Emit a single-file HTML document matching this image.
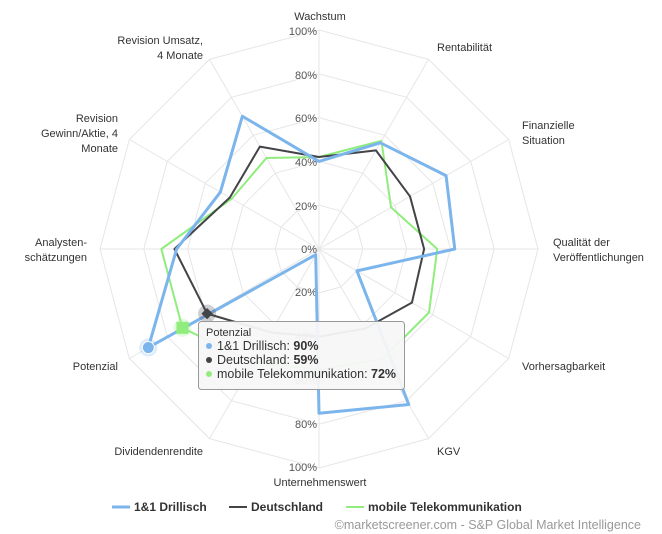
<!DOCTYPE html>
<html><head><meta charset="utf-8"><style>
body{margin:0;background:#fff;}
svg{display:block;font-family:"Liberation Sans",sans-serif;}
</style></head><body>
<svg id="s" width="662" height="534" xmlns="http://www.w3.org/2000/svg">
<g id="grid"></g>
<g font-size="11" fill="#555" text-anchor="end">
<text x="317" y="35">100%</text><text x="317" y="79">80%</text><text x="317" y="122">60%</text><text x="317" y="166">40%</text><text x="317" y="210">20%</text><text x="317" y="253">0%</text>
<text x="317" y="296">20%</text><text x="317" y="340">40%</text><text x="317" y="384">60%</text><text x="317" y="428">80%</text><text x="317" y="471">100%</text>
</g>
<g font-size="11" fill="#333">
<text x="320" y="20" text-anchor="middle">Wachstum</text>
<text x="437" y="51">Rentabilität</text>
<text x="522" y="129">Finanzielle</text><text x="522" y="144">Situation</text>
<text x="553" y="246">Qualität der</text><text x="553" y="261">Veröffentlichungen</text>
<text x="522" y="370">Vorhersagbarkeit</text>
<text x="437" y="455">KGV</text>
<text x="320" y="486" text-anchor="middle">Unternehmenswert</text>
<text x="203" y="455" text-anchor="end">Dividendenrendite</text>
<text x="118" y="370" text-anchor="end">Potenzial</text>
<text x="87" y="246" text-anchor="end">Analysten-</text><text x="87" y="261" text-anchor="end">schätzungen</text>
<text x="118" y="122" text-anchor="end">Revision</text><text x="118" y="137" text-anchor="end">Gewinn/Aktie, 4</text><text x="118" y="152" text-anchor="end">Monate</text>
<text x="203" y="44" text-anchor="end">Revision Umsatz,</text><text x="203" y="59" text-anchor="end">4 Monate</text>
</g>
<g id="series"></g>
<g>
<rect x="198.5" y="321.5" width="206" height="68" rx="3" fill="#f7f7f7" fill-opacity="0.95" stroke="#999" />
<text x="206" y="336" font-size="11" fill="#333">Potenzial</text>
<circle cx="209" cy="346" r="3" fill="#7cb5ec"/><text x="217" y="350" font-size="12.5" fill="#333">1&amp;1 Drillisch: <tspan font-weight="bold">90%</tspan></text>
<circle cx="209" cy="360" r="3" fill="#434348"/><text x="217" y="364" font-size="12.5" fill="#333">Deutschland: <tspan font-weight="bold">59%</tspan></text>
<circle cx="209" cy="374" r="3" fill="#90ed7d"/><text x="217" y="378" font-size="12.5" fill="#333">mobile Telekommunikation: <tspan font-weight="bold">72%</tspan></text>
</g>
<g font-size="12" font-weight="bold" fill="#333">
<line x1="112" y1="507" x2="130" y2="507" stroke="#7cb5ec" stroke-width="3"/><text x="134" y="511">1&amp;1 Drillisch</text>
<line x1="229" y1="507" x2="247" y2="507" stroke="#434348" stroke-width="2"/><text x="251" y="511">Deutschland</text>
<line x1="346" y1="507" x2="364" y2="507" stroke="#90ed7d" stroke-width="2"/><text x="368" y="511">mobile Telekommunikation</text>
</g>
<text x="641" y="529" font-size="12.5" fill="#999" text-anchor="end">©marketscreener.com - S&amp;P Global Market Intelligence</text>
</svg>
<script>
var cx=319,cy=249,R=219,NS="http://www.w3.org/2000/svg";
function pt(i,v){var a=i*Math.PI/6;return [cx+Math.sin(a)*R*v/100,cy-Math.cos(a)*R*v/100];}
function el(p,t,at){var e=document.createElementNS(NS,t);for(var k in at)e.setAttribute(k,at[k]);p.appendChild(e);return e;}
var g=document.getElementById('grid');
for(var i=0;i<12;i++){var p=pt(i,100);el(g,'line',{x1:cx,y1:cy,x2:p[0],y2:p[1],stroke:'#e6e6e6'});}
for(var r=20;r<=100;r+=20){var s=[];for(var i=0;i<12;i++)s.push(pt(i,r).join(','));el(g,'polygon',{points:s.join(' '),fill:'none',stroke:'#e6e6e6'});}
var S=document.getElementById('series');
var data=[
 ['#90ed7d',2,[42,57,38,54,58,58,55,60,72,72,46,48]],
 ['#434348',2,[42,52,48,48,49,42,40,44,59,66,47,54]],
 ['#7cb5ec',3,[40,56,67,62,20,82,75,3,90,65,52,70]]];
data.forEach(function(d){var s=[];for(var i=0;i<12;i++)s.push(pt(i,d[2][i]).join(','));el(S,'polygon',{points:s.join(' '),fill:'none',stroke:d[0],'stroke-width':d[1],'stroke-linejoin':'round'});});
var b=pt(8,90);el(S,'circle',{cx:b[0],cy:b[1],r:9,fill:'#7cb5ec','fill-opacity':0.25});el(S,'circle',{cx:b[0],cy:b[1],r:6,fill:'#7cb5ec',stroke:'#fff'});
var k=pt(8,59);el(S,'circle',{cx:k[0],cy:k[1],r:9,fill:'#434348','fill-opacity':0.25});el(S,'rect',{x:k[0]-4,y:k[1]-4,width:8,height:8,fill:'#434348',transform:'rotate(45 '+k[0]+' '+k[1]+')'});
var m=pt(8,72);el(S,'circle',{cx:m[0],cy:m[1],r:9,fill:'#90ed7d','fill-opacity':0.25});el(S,'rect',{x:m[0]-6,y:m[1]-6,width:12,height:12,fill:'#90ed7d'});
</script>
</body></html>
